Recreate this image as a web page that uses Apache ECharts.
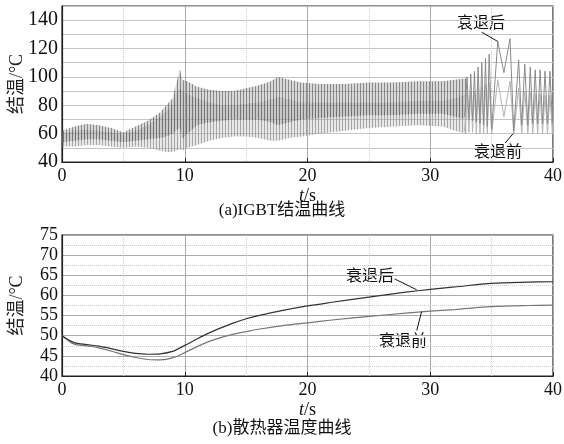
<!DOCTYPE html>
<html>
<head>
<meta charset="utf-8">
<script src="https://cdn.jsdelivr.net/npm/echarts@6.0.0/dist/echarts.min.js"></script>
<style>
  html, body { margin: 0; padding: 0; background: #fff; }
  #main { width: 564px; height: 444px; }
</style>
</head>
<body>
<div id="main"></div>
<script>
// (a) IGBT junction temperature: envelope of the dense oscillation
var tEnv = [0, 1, 2, 3, 4, 5, 6, 7, 8, 8.5, 9, 9.3, 9.6, 9.8, 10.2, 11, 12, 13, 14, 15, 16, 17, 17.6, 18.5, 19.5, 21, 23, 25, 27, 29, 31, 32, 33];
var afterHi  = [62, 65, 67, 66, 64, 61, 65, 69, 75, 80, 85, 95, 106, 98, 97, 93, 91, 90, 90, 92, 94, 97, 100, 98, 96, 95, 95, 96, 96, 97, 97, 98, 99];
var afterLo  = [54, 55, 56, 56, 55, 54, 55, 56, 57, 58, 60, 62, 64, 56, 60, 66, 68, 69, 70, 70, 70, 68, 66, 68, 70, 71, 72, 73, 73, 74, 74, 72, 70];
var beforeHi = [60, 62, 63, 62, 61, 59, 62, 66, 72, 76, 80, 88, 92, 90, 88, 85, 82, 80, 80, 81, 82, 84, 86, 84, 82, 82, 82, 82, 82, 83, 83, 85, 88];
var beforeLo = [51, 51, 52, 52, 51, 50, 51, 50, 48, 47, 47, 48, 49, 48, 50, 52, 55, 57, 58, 58, 57, 55, 55, 57, 58, 60, 62, 64, 65, 66, 65, 62, 60];

// last part where the single swings can be seen (peaks / troughs)
var tLate = [32.8, 33.0, 33.15, 33.3, 33.45, 33.6, 33.75, 33.9, 34.05, 34.2, 34.35, 34.5, 34.65, 34.8, 35.0, 35.5, 36.0, 36.5, 36.8, 37.2, 37.45, 37.7, 37.95, 38.15, 38.35, 38.55, 38.75, 38.95, 39.15, 39.35, 39.55, 39.75, 39.95, 40];
var afterLate  = [72, 100, 70, 102, 69, 104, 68, 107, 67, 110, 66, 113, 65, 116, 63, 125, 103, 127, 62, 112, 66, 109, 66, 107, 67, 105, 67, 105, 67, 104, 67, 104, 68, 80];
var beforeLate = [62, 88, 61, 89, 61, 90, 60, 92, 60, 93, 60, 95, 60, 96, 60, 98, 72, 97, 60, 92, 60, 90, 60, 89, 60, 88, 60, 88, 60, 87, 60, 87, 60, 70];

// (b) heat sink temperature
var tSink = [0, 1, 2, 3, 4, 5, 6, 7, 8, 9, 10, 11, 12, 13, 14, 15, 16, 18, 20, 22, 25, 28, 30, 32, 35, 38, 40];
var sinkAfter  = [50, 48.3, 47.8, 47.4, 46.8, 46.1, 45.6, 45.4, 45.5, 46.1, 47.6, 49.2, 50.7, 52.0, 53.2, 54.2, 55.0, 56.3, 57.4, 58.3, 59.6, 60.8, 61.5, 62.1, 63.0, 63.3, 63.4];
var sinkBefore = [50, 47.9, 47.5, 47.0, 46.2, 45.3, 44.6, 44.1, 44.0, 44.5, 45.8, 47.3, 48.6, 49.6, 50.4, 51.0, 51.6, 52.5, 53.2, 53.9, 54.8, 55.6, 56.1, 56.5, 57.2, 57.5, 57.6];

var serif = '"Liberation Serif", "Times New Roman", "Noto Sans CJK SC", serif';

function pairs(xs, ys) {
  return xs.map(function (x, i) { return [x, ys[i]]; });
}
// vertical streak texture, looks like the dense oscillation
function stripes(dark, light) {
  var c = document.createElement('canvas');
  c.width = 3; c.height = 4;
  var g = c.getContext('2d');
  g.fillStyle = light; g.fillRect(0, 0, 3, 4);
  g.fillStyle = dark; g.fillRect(0, 0, 1, 4);
  return c;
}
// band between two envelopes, drawn once as a polygon
function bandSeries(name, hi, lo, fill) {
  return {
    name: name, type: 'custom', xAxisIndex: 0, yAxisIndex: 0,
    data: pairs(tEnv, hi), encode: { x: 0, y: 1 },
    renderItem: function (params, api) {
      if (params.dataIndex !== 0) return;
      var pts = [];
      for (var i = 0; i < tEnv.length; i++) pts.push(api.coord([tEnv[i], hi[i]]));
      for (var j = tEnv.length - 1; j >= 0; j--) pts.push(api.coord([tEnv[j], lo[j]]));
      return { type: 'polygon', shape: { points: pts }, style: { fill: fill } };
    }
  };
}

function xAxisCfg(grid) {
  return {
    gridIndex: grid, type: 'value', min: 0, max: 40, interval: 10,
    name: '{i|t}/s', nameLocation: 'middle', nameGap: 25,
    nameTextStyle: { fontFamily: serif, fontSize: 18, color: '#111',
      rich: { i: { fontFamily: serif, fontSize: 18, fontStyle: 'italic', color: '#111' } } },
    axisLine: { lineStyle: { color: '#222', width: 1.2 } },
    axisTick: { inside: true, length: 4, lineStyle: { color: '#222' } },
    axisLabel: { fontFamily: serif, fontSize: 18, color: '#111', margin: 5 },
    splitLine: { show: true, lineStyle: { color: '#aaa', width: 1 } },
    minorTick: { show: false, splitNumber: 2 },
    minorSplitLine: { show: true, lineStyle: { color: '#ccc', type: 'dotted' } }
  };
}

var leader = { color: '#111', width: 1, type: 'solid' };

var chart = echarts.init(document.getElementById('main'));
var option = {
  animation: false,
  grid: [
    { left: 62, right: 11, top: 6, height: 156, show: true, borderColor: '#222', borderWidth: 1.2,
      containLabel: false, outerBoundsMode: 'none' },
    { left: 62, right: 11, top: 235, height: 141, show: true, borderColor: '#222', borderWidth: 1.2,
      containLabel: false, outerBoundsMode: 'none' }
  ],
  xAxis: [xAxisCfg(0), xAxisCfg(1)],
  yAxis: [
    {
      gridIndex: 0, type: 'value', min: 40, max: 150, interval: 10,
      name: '结温/°C', nameLocation: 'middle', nameGap: 36, nameMoveOverlap: false,
      nameTextStyle: { fontFamily: serif, fontSize: 18, color: '#222' },
      axisLine: { show: true, lineStyle: { color: '#222', width: 1.2 } },
      axisTick: { show: false },
      axisLabel: { fontFamily: serif, fontSize: 20, color: '#111', margin: 4,
        formatter: function (v) { return (v % 20 === 0 && v < 150) ? String(v) : ''; } },
      splitLine: { show: true, lineStyle: { color: '#c4c4c4', width: 1 } }
    },
    {
      gridIndex: 1, type: 'value', min: 40, max: 75, interval: 5,
      name: '结温/°C', nameLocation: 'middle', nameGap: 36, nameMoveOverlap: false,
      nameTextStyle: { fontFamily: serif, fontSize: 18, color: '#222' },
      axisLine: { show: true, lineStyle: { color: '#222', width: 1.2 } },
      axisTick: { show: false },
      axisLabel: { fontFamily: serif, fontSize: 18, color: '#111', margin: 4 },
      splitLine: { show: true, lineStyle: { color: '#aaa', width: 1 } },
      minorTick: { show: false, splitNumber: 2 },
      minorSplitLine: { show: true, lineStyle: { color: '#ccc', type: 'dotted' } }
    }
  ],
  series: [
    bandSeries('衰退前', beforeHi, beforeLo,
      { image: stripes('rgba(150,150,150,0.8)', 'rgba(180,180,180,0.3)'), repeat: 'repeat' }),
    bandSeries('衰退后', afterHi, afterLo,
      { image: stripes('rgba(95,95,95,0.65)', 'rgba(130,130,130,0.3)'), repeat: 'repeat' }),
    { name: '衰退前-late', type: 'line', xAxisIndex: 0, yAxisIndex: 0, symbol: 'none',
      lineStyle: { color: '#b4b4b4', width: 1 }, data: pairs(tLate, beforeLate),
      markLine: { silent: true, symbol: 'none', label: { show: false }, lineStyle: leader,
        data: [[{ coord: [36.1, 53.4] }, { coord: [36.75, 60] }]] } },
    { name: '衰退后-late', type: 'line', xAxisIndex: 0, yAxisIndex: 0, symbol: 'none',
      lineStyle: { color: '#8a8a8a', width: 1 }, data: pairs(tLate, afterLate),
      markLine: { silent: true, symbol: 'none', label: { show: false }, lineStyle: leader,
        data: [[{ coord: [34.2, 131.5] }, { coord: [35.5, 125] }]] } },

    { name: '衰退前', type: 'line', xAxisIndex: 1, yAxisIndex: 1, symbol: 'none', smooth: 0.3,
      lineStyle: { color: '#777', width: 1.2 }, data: pairs(tSink, sinkBefore),
      markLine: { silent: true, symbol: 'none', label: { show: false }, lineStyle: leader,
        data: [[{ coord: [28.9, 51.3] }, { coord: [29.3, 56] }]] } },
    { name: '衰退后', type: 'line', xAxisIndex: 1, yAxisIndex: 1, symbol: 'none', smooth: 0.3,
      lineStyle: { color: '#333', width: 1.2 }, data: pairs(tSink, sinkAfter),
      markLine: { silent: true, symbol: 'none', label: { show: false }, lineStyle: leader,
        data: [[{ coord: [27.1, 64.1] }, { coord: [28.9, 61.4] }]] } }
  ],
  graphic: [
    { type: 'text', left: 457, top: 14, style: { text: '衰退后', font: '16px "Noto Sans CJK SC"', fill: '#111' } },
    { type: 'text', left: 474, top: 143, style: { text: '衰退前', font: '16px "Noto Sans CJK SC"', fill: '#111' } },
    { type: 'text', left: 346, top: 267, style: { text: '衰退后', font: '16px "Noto Sans CJK SC"', fill: '#111' } },
    { type: 'text', left: 379, top: 332, style: { text: '衰退前', font: '16px "Noto Sans CJK SC"', fill: '#111' } },
    { type: 'text', left: 'center', top: 202, style: { text: '(a)IGBT结温曲线', font: '17px "Liberation Serif", "Noto Sans CJK SC"', fill: '#111' } },
    { type: 'text', left: 'center', top: 420, style: { text: '(b)散热器温度曲线', font: '17px "Liberation Serif", "Noto Sans CJK SC"', fill: '#111' } }
  ]
};
chart.setOption(option);
</script>
</body>
</html>
